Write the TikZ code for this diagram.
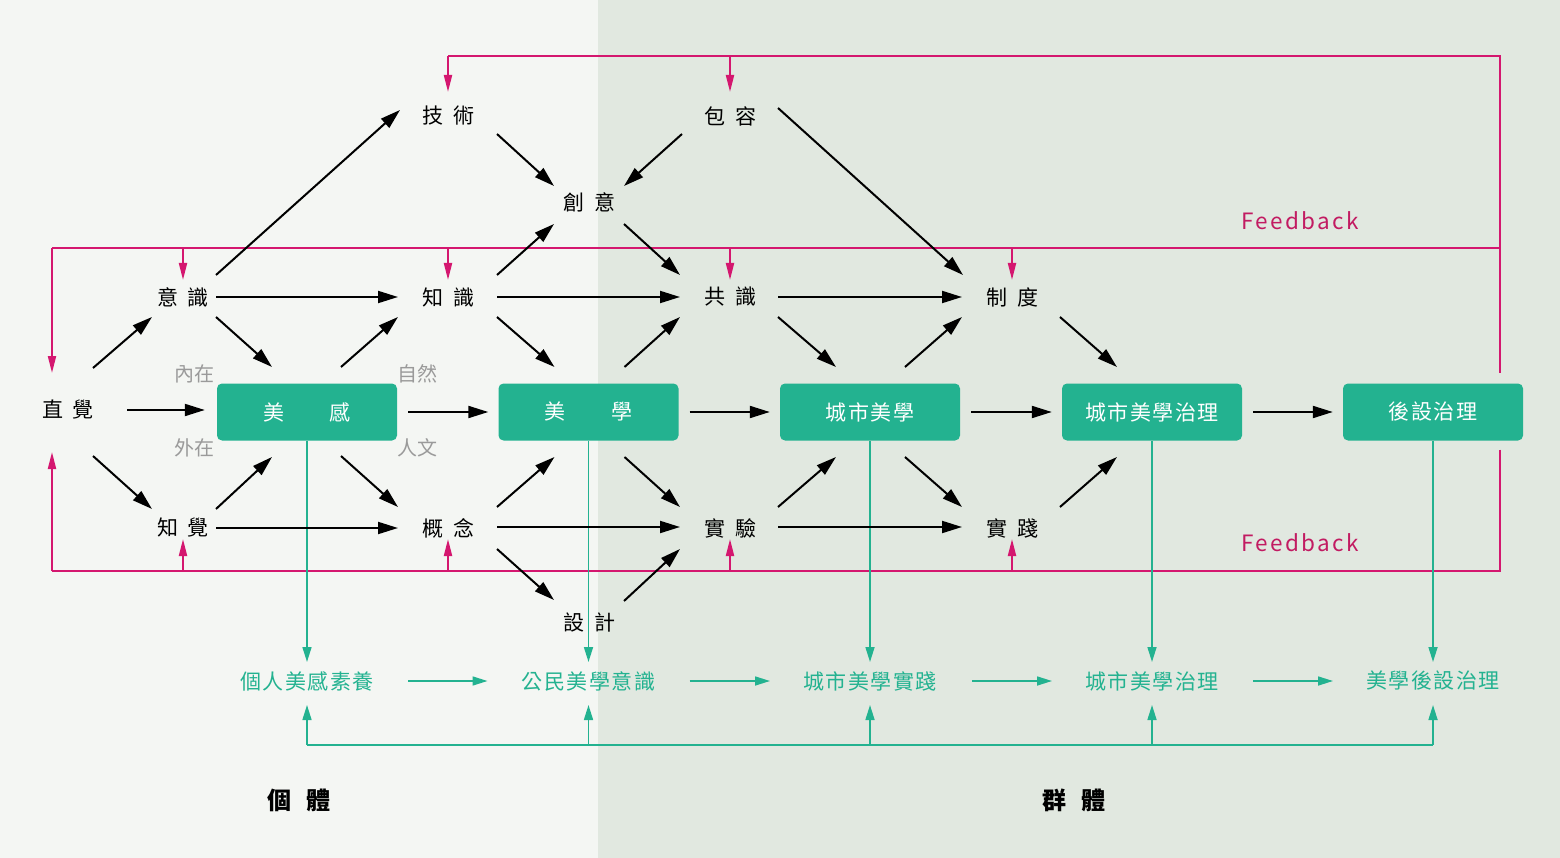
\documentclass[tikz,border=0pt]{standalone}
\usepackage{fontspec}
\setmainfont{Noto Sans CJK TC}
\newfontfamily\cjkT{Noto Sans CJK TC}[LetterSpace=7]
\newfontfamily\fbfont{Noto Sans CJK TC}[LetterSpace=10]
\usetikzlibrary{arrows.meta,calc}
\definecolor{bgL}{HTML}{F4F6F3}
\definecolor{bgR}{HTML}{E1E8E0}
\definecolor{tealc}{HTML}{23B290}
\definecolor{mag}{HTML}{D4176F}
\definecolor{magtxt}{HTML}{C21B62}
\definecolor{lblgray}{HTML}{9A9A9A}
\newcommand\gapsp{\hspace{10pt}}
\begin{document}
\begin{tikzpicture}[x=1pt,y=-1pt,
 lab/.style={font=\fontsize{21}{25}\selectfont, inner sep=0pt},
 glab/.style={font=\fontsize{20}{24}\selectfont, text=lblgray, inner sep=0pt},
 box/.style={fill=tealc, rounded corners=5pt, minimum width=180pt, minimum height=57pt, text=white, font=\cjkT\fontsize{21}{25}\selectfont, inner sep=0pt},
 btxt/.style={text=tealc, font=\cjkT\fontsize{21}{25}\selectfont, inner sep=0pt},
 grp/.style={font=\bfseries\fontsize{24}{28}\selectfont, inner sep=0pt},
 fbl/.style={text=magtxt, font=\fbfont\fontsize{22.5}{27}\selectfont, inner sep=0pt},
 arr/.style={line width=2pt, -{Triangle[length=20pt,width=12pt]}},
 fb/.style={line width=2pt, draw=mag},
 fbarr/.style={fb, -{Triangle[length=17pt,width=8pt]}},
 tl/.style={line width=1.6pt, draw=tealc},
 tarr/.style={tl, -{Triangle[length=15pt,width=9pt]}},
]
\fill[bgL] (0,0) rectangle (598,858);
\fill[bgR] (598,0) rectangle (1560,858);
\useasboundingbox (0,0) rectangle (1560,858);

% text nodes
\node[lab] (zj) at (68,410) {直\gapsp 覺};
\node[lab] (ys) at (183,297) {意\gapsp 識};
\node[lab] (zjue) at (183,528) {知\gapsp 覺};
\node[lab] (js) at (448,116) {技\gapsp 術};
\node[lab] (zs) at (448,297) {知\gapsp 識};
\node[lab] (gn) at (448,528) {概\gapsp 念};
\node[lab] (cy) at (589,202) {創\gapsp 意};
\node[lab] (sj) at (589,622) {設\gapsp 計};
\node[lab] (br) at (730,116) {包\gapsp 容};
\node[lab] (gs) at (730,297) {共\gapsp 識};
\node[lab] (sy) at (730,528) {實\gapsp 驗};
\node[lab] (zd) at (1012,297) {制\gapsp 度};
\node[lab] (sjian) at (1012,528) {實\gapsp 踐};

% boxes
\node[box] (mg) at (307,412) {美\hspace{46pt}感};
\node[box] (mx) at (588.5,412) {美\hspace{46pt}學};
\node[box] (cs) at (870,412) {城市美學};
\node[box] (cz) at (1152,412) {城市美學治理};
\node[box] (hs) at (1433,412) {後設治理};

% gray labels
\node[glab] (nz) at (194,374) {內在};
\node[glab] (wz) at (194,448) {外在};
\node[glab] (zr) at (417,374) {自然};
\node[glab] (rw) at (417,448) {人文};

% bottom texts
\node[btxt] (b1) at (307,681) {個人美感素養};
\node[btxt] (b2) at (588.5,681) {公民美學意識};
\node[btxt] (b3) at (870,681) {城市美學實踐};
\node[btxt] (b4) at (1152,681) {城市美學治理};
\node[btxt] (b5) at (1433,681) {美學後設治理};

\node[grp] (gt) at (299,800) {個\hspace{15pt}體};
\node[grp] (qt) at (1074,800) {群\hspace{15pt}體};

\node[fbl] (fb1) at (1300,221) {Feedback};
\node[fbl] (fb2) at (1300,543) {Feedback};

% feedback lines
\coordinate (fbT) at (0,56);
\coordinate (fbM) at (0,248);
\coordinate (fbB) at (0,571);
\coordinate (RT) at (1500,56);
\coordinate (RM) at (1500,248);
\coordinate (RB) at (1500,571);
\coordinate (LM) at (52,248);
\coordinate (LB) at (52,571);
\draw[fb] (js |- fbT) -- (RT) -- ($(hs.north)+(67,-10)$);
\draw[fb] ($(hs.south)+(67,9)$) -- (RB) -- (LB);
\draw[fb] (RM) -- (LM);
\draw[fbarr] (js |- fbT) -- ($(js)+(0,-24)$);
\draw[fbarr] (br |- fbT) -- ($(br)+(0,-24)$);
\draw[fbarr] (LM) -- ($(zj)+(-16,-37)$);
\draw[fbarr] (LB) -- ($(zj)+(-16,42)$);
\foreach \n in {ys,zs,gs,zd}{
  \draw[fbarr] (\n |- fbM) -- ($(\n)+(0,-17)$);
}
\foreach \n in {zjue,gn,sy,sjian}{
  \draw[fbarr] (\n |- fbB) -- ($(\n)+(0,11)$);
}

% teal lines
\foreach \a/\b in {mg/b1,mx/b2,cs/b3,cz/b4,hs/b5}{
  \draw[tarr] (\a.south) -- ($(\b)+(0,-19)$);
  \draw[tarr] (\b |- 0,745) -- ($(\b)+(0,24)$);
}
\draw[tl] (b1 |- 0,745) -- (b5 |- 0,745);
\draw[tarr] ($(b1)+(101,0)$) -- ($(b2)+(-101,0)$);
\draw[tarr] ($(b2)+(101,0)$) -- ($(b3)+(-100,0)$);
\draw[tarr] ($(b3)+(102,0)$) -- ($(b4)+(-100,0)$);
\draw[tarr] ($(b4)+(101,0)$) -- ($(b5)+(-100,0)$);

% black arrows
\draw[arr] ($(zj)+(25,-42)$) -- ($(ys)+(-31,20)$);
\draw[arr] ($(zj)+(59,0)$) -- ($(mg.west |- zj)+(-12,0)$);
\draw[arr] ($(zj)+(25,46)$) -- ($(zjue)+(-31,-19)$);
\draw[arr] ($(ys)+(33,-22)$) -- ($(js)+(-48,-6)$);
\draw[arr] ($(ys)+(33,0)$) -- ($(zs)+(-50,0)$);
\draw[arr] ($(ys)+(33,20)$) -- ($(mg)+(-35,-45)$);
\draw[arr] ($(zjue)+(33,-19)$) -- ($(mg)+(-35,45)$);
\draw[arr] ($(zjue)+(33,0)$) -- ($(gn)+(-50,0)$);
\draw[arr] ($(mg)+(34,-45)$) -- ($(zs)+(-50,20)$);
\draw[arr] ($(mg)+(34,44)$) -- ($(gn)+(-50,-21)$);
\draw[arr,shorten <=11pt,shorten >=10pt] (mg.east) -- (mx.west);
\draw[arr] ($(js)+(49,18)$) -- ($(cy)+(-35,-16)$);
\draw[arr] ($(br)+(-48,18)$) -- ($(cy)+(35,-16)$);
\draw[arr] ($(br)+(48,-8)$) -- ($(zd)+(-49,-22)$);
\draw[arr] ($(zs)+(49,-22)$) -- ($(cy)+(-35,22)$);
\draw[arr] ($(zs)+(49,0)$) -- ($(gs)+(-50,0)$);
\draw[arr] ($(zs)+(49,20)$) -- ($(mx)+(-34,-45)$);
\draw[arr] ($(gn)+(49,-21)$) -- ($(mx)+(-34,45)$);
\draw[arr] ($(gn)+(49,-1)$) -- ($(sy)+(-50,-1)$);
\draw[arr] ($(gn)+(49,21)$) -- ($(sj)+(-35,-22)$);
\draw[arr] ($(sj)+(35,-21)$) -- ($(sy)+(-50,21)$);
\draw[arr] ($(cy)+(35,22)$) -- ($(gs)+(-50,-22)$);
\draw[arr] ($(mx)+(36,-45)$) -- ($(gs)+(-50,20)$);
\draw[arr] ($(mx)+(36,45)$) -- ($(sy)+(-50,-21)$);
\draw[arr,shorten <=11pt,shorten >=10pt] (mx.east) -- (cs.west);
\draw[arr] ($(gs)+(48,0)$) -- ($(zd)+(-50,0)$);
\draw[arr] ($(gs)+(48,20)$) -- ($(cs)+(-34,-45)$);
\draw[arr] ($(sy)+(48,-21)$) -- ($(cs)+(-34,45)$);
\draw[arr] ($(sy)+(48,-1)$) -- ($(sjian)+(-50,-1)$);
\draw[arr] ($(cs)+(35,-45)$) -- ($(zd)+(-50,20)$);
\draw[arr] ($(cs)+(35,45)$) -- ($(sjian)+(-50,-21)$);
\draw[arr,shorten <=11pt,shorten >=10pt] (cs.east) -- (cz.west);
\draw[arr] ($(zd)+(48,20)$) -- ($(cz)+(-35,-45)$);
\draw[arr] ($(sjian)+(48,-21)$) -- ($(cz)+(-35,45)$);
\draw[arr,shorten <=11pt,shorten >=10pt] (cz.east) -- (hs.west);
\end{tikzpicture}
\end{document}
